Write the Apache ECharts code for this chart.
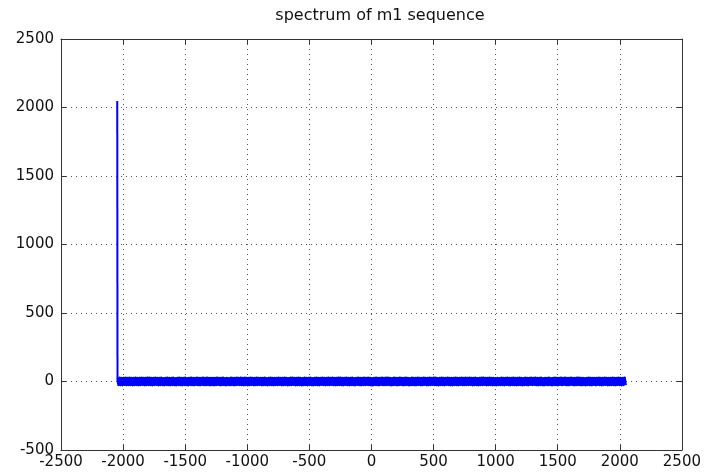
<!DOCTYPE html>
<html>
<head>
<meta charset="utf-8">
<script src="https://cdn.jsdelivr.net/npm/echarts@6/dist/echarts.min.js"></script>
<style>html,body{margin:0;padding:0;background:#fff;}#c{width:704px;height:473px;}</style>
</head>
<body>
<div id="c"></div>
<script>
const titleText = 'spectrum of m1 sequence';
const xTicks = [-2500, -2000, -1500, -1000, -500, 0, 500, 1000, 1500, 2000, 2500];
const yTicks = [-500, 0, 500, 1000, 1500, 2000, 2500];
// Peak sample
const peakX = -2047;
const peakY = 2047;
// Noise floor samples, spanning -2045 .. 2047
const noiseStartX = -2045;
const noiseEndX = 2047;
const noiseY = [
26,-25,27,-26,25,-27,26,-24,27,-26,25,-26,27,-25,26,-27,
25,-26,27,-25,26,-27,25,-26,27,-24,26,-27,25,-26,27,-25,
27,-26,25,-27,26,-25,27,-24,26,-27,25,-26,27,-25,24,-27,
26,-25,27,-26,25,-27,26,-25,27,-26,24,-27,26,-25,27,-26,
25,-27,26,-25,27,-26,24,-27,26,-25,27,-26,25,-27,26,-24,
27,-26,25,-27,26,-24,27,-26,25,-26,27,-25,26,-27,25,-26,
26,-27,25,-26,27,-24,26,-27,25,-26,27,-25,24,-27,26,-25,
24,-26,27,-25,26,-27,25,-26,27,-24,26,-25,27,-26,25,-27,
27,-25,26,-27,25,-26,27,-24,26,-27,25,-26,27,-25,26,-24,
26,-27,25,-26,27,-25,24,-27,26,-25,27,-26,25,-27,26,-25,
25,-26,27,-24,26,-27,25,-26,27,-25,26,-27,24,-26,27,-25,
27,-24,26,-27,25,-26,27,-25,26,-27,24,-26,27,-25,26,-27,
26,-25,27,-26,24,-27,26,-25,27,-26,25,-27,26,-24,27,-25,
25,-27,26,-25,27,-26,25,-24,27,-26,26,-27,25,-26,27,-25,
27,-26,25,-27,26,-24,27,-26,25,-27,26,-25,27,-26,24,-27,
26,-24,27,-26,25,-27,26,-25,27,-26,25,-24,27,-26,26,-27,
24,-27,26,-25,27,-26,25,-27,26,-24,27,-26,25,-26,27,-25,
27,-25,26,-27,24,-26,27,-25,26,-27,25,-26,27,-24,26,-27,
25,-26,27,-25,26,-27,24,-26,27,-25,26,-27,25,-26,27,-24,
26,-27,25,-26,27,-24,26,-27,25,-26,27,-25,26,-24,27,-26,
27,-26,24,-27,26,-25,27,-26,25,-27,26,-24,27,-25,26,-27,
25,-27,26,-25,27,-26,25,-27,26,-24,27,-26,25,-26,27,-25,
26,-25,27,-24,26,-27,25,-26,27,-25,24,-27,26,-25,27,-26,
27,-24,26,-27,25,-26,27,-25,26,-27,25,-26,24,-27,26,-25,
24,-26,27,-25,26,-27,25,-24,27,-26,25,-27,26,-25,27,-26,
26,-27,25,-26,27,-25,26,-27,24,-26,27,-25,26,-27,25,-24,
27,-25,26,-24,27,-26,25,-27,26,-25,27,-26,24,-27,26,-25,
25,-26,27,-25,24,-27,26,-25,27,-26,25,-27,26,-24,27,-26,
26,-24,27,-26,25,-27,26,-25,27,-24,26,-27,25,-26,27,-25,
27,-26,25,-27,26,-25,24,-27,26,-25,27,-26,25,-27,26,-24,
25,-27,26,-24,27,-26,25,-27,26,-25,27,-24,26,-27,25,-26,
26,-25,27,-26,25,-27,26,-24,27,-26,25,-27,26,-25,27,-26
];

const noisePts = [];
const n = noiseY.length;
for (let i = 0; i < n; i++) {
  noisePts.push([noiseStartX + (noiseEndX - noiseStartX) * i / (n - 1), noiseY[i]]);
}
const spikePts = [[peakX, peakY], noisePts[0]];

const FONT = 'DejaVu Sans';
const chart = echarts.init(document.getElementById('c'), null, {renderer: 'canvas'});
const gridLine = {show: true, lineStyle: {color: '#555', type: [1, 4], width: 1}};
const frame = {show: true, onZero: false, lineStyle: {color: '#333', width: 1}};
const tick = {show: true, inside: true, length: 5, lineStyle: {color: '#333'}};
chart.setOption({
  animation: false,
  backgroundColor: '#fff',
  title: {
    text: titleText, left: 375, top: 3, textAlign: 'center',
    textStyle: {fontFamily: FONT, fontSize: 16, fontWeight: 'normal', color: '#111'}
  },
  grid: {left: 61, right: 15, top: 39, bottom: 23, containLabel: false},
  xAxis: [{
    type: 'value', min: -2500, max: 2500, interval: 500, position: 'bottom',
    axisLine: frame, axisTick: tick, splitLine: gridLine,
    axisLabel: {fontFamily: FONT, fontSize: 15, color: '#111', margin: 5,
      customValues: xTicks, formatter: v => String(v)}
  }, {
    type: 'value', min: -2500, max: 2500, interval: 500, position: 'top',
    axisLine: frame, axisTick: tick, splitLine: {show: false}, axisLabel: {show: false}
  }],
  yAxis: [{
    type: 'value', min: -500, max: 2500, interval: 500, position: 'left',
    axisLine: frame, axisTick: tick, splitLine: gridLine,
    axisLabel: {fontFamily: FONT, fontSize: 15, color: '#111', margin: 7,
      customValues: yTicks, formatter: v => String(v)}
  }, {
    type: 'value', min: -500, max: 2500, interval: 500, position: 'right',
    axisLine: frame, axisTick: tick, splitLine: {show: false}, axisLabel: {show: false}
  }],
  series: [{
    type: 'line', data: spikePts, showSymbol: false, symbol: 'none',
    lineStyle: {color: '#0000ff', width: 2}, z: 3
  }, {
    type: 'line', data: noisePts, showSymbol: false, symbol: 'none',
    lineStyle: {color: '#0000ff', width: 2.5, join: 'round'}, z: 3
  }]
});
</script>
</body>
</html>
